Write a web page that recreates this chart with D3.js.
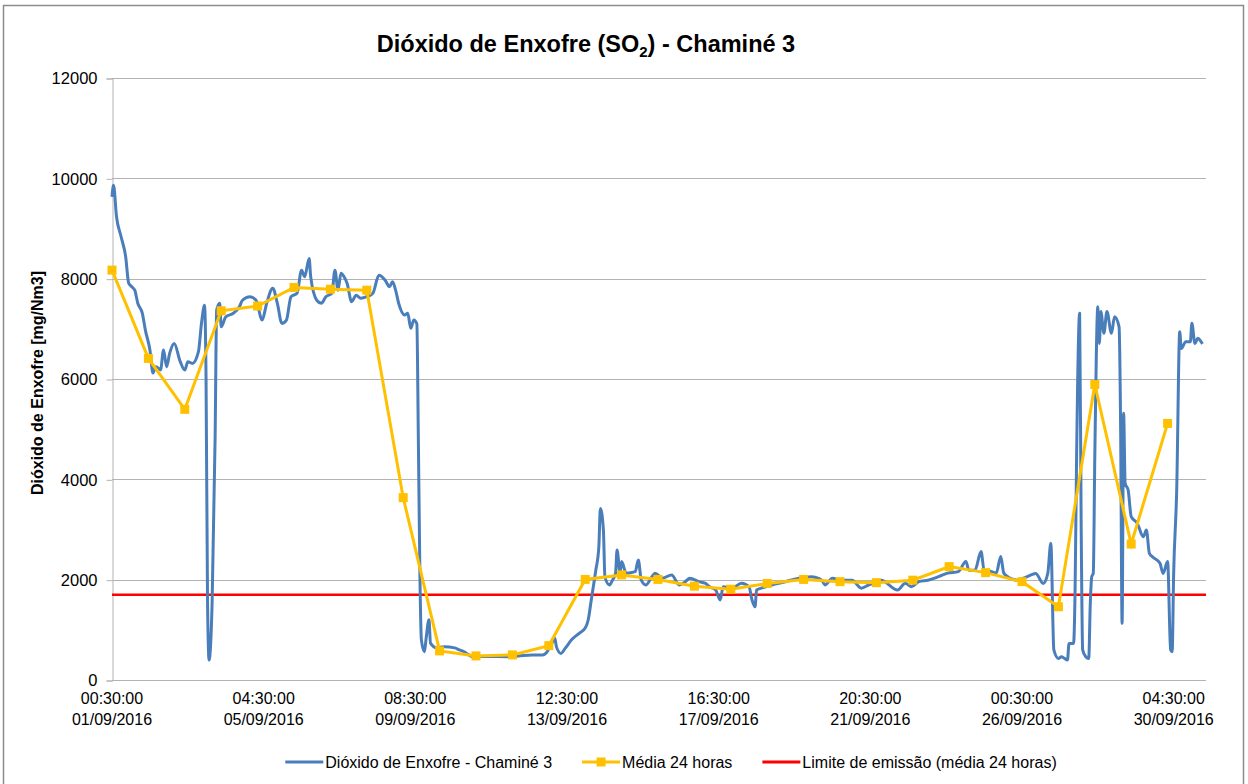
<!DOCTYPE html>
<html>
<head>
<meta charset="utf-8">
<script src="https://cdn.jsdelivr.net/npm/d3@7"></script>
<style>
  html, body { margin: 0; padding: 0; background: #ffffff; }
  svg { display: block; font-family: "Liberation Sans", Arial, sans-serif; }
</style>
</head>
<body>
<div id="chart"></div>
<script>
'use strict';

// hourly readings: [hour of month, mg/Nm3]
var so2Readings = [
    [0, 9630], [1, 9860], [3, 9230], [6, 8835], [9, 8440], [11, 7910], [13, 7840], [15, 7770],
    [17, 7510], [20, 7310], [22, 6975], [25, 6580], [27, 6120], [29, 6245], [32, 6180], [34, 6580],
    [36, 6245], [38, 6510], [41, 6710], [45, 6345], [48, 6180], [50, 6345], [53, 6310], [57, 6545],
    [59, 7110], [61, 7470], [62, 6045], [63, 1530], [64, 400], [66, 1530], [68, 4850], [69, 7375],
    [71, 7510], [72, 7040], [75, 7240], [80, 7310], [84, 7440], [86, 7570], [91, 7640], [95, 7570],
    [99, 7175], [102, 7510], [106, 7810], [109, 7510], [112, 7110], [115, 7175], [118, 7640],
    [122, 7710], [125, 8170], [127, 8040], [130, 8400], [131, 8040], [135, 7570], [138, 7510],
    [141, 7640], [145, 7710], [147, 8170], [149, 7770], [151, 8110], [153, 8040], [155, 7910],
    [158, 7540], [161, 7670], [164, 7610], [168, 7640], [172, 7710], [176, 8070], [180, 7975],
    [183, 7840], [185, 7940], [187, 7770], [189, 7510], [193, 7275], [195, 7310], [197, 7010],
    [199, 7175], [201, 7100], [202, 4780], [203, 2130], [204, 800], [206, 565], [207, 800],
    [209, 1200], [210, 735], [214, 640], [219, 665], [226, 640], [229, 600], [232, 565],
    [238, 465], [249, 470], [260, 465], [268, 480], [277, 500], [284, 500], [286, 530],
    [290, 730], [292, 830], [293, 665], [296, 530], [299, 640], [303, 800], [308, 930],
    [312, 1035], [314, 1200], [316, 1595], [318, 1990], [319, 2190], [321, 2655], [322, 3420],
    [324, 2990], [325, 2050], [328, 1895], [330, 1990], [332, 2130], [333, 2590], [335, 2130],
    [336, 2360], [339, 2130], [345, 2160], [347, 2390], [349, 1990], [352, 1895], [356, 2060],
    [358, 2130], [363, 2030], [369, 2095], [374, 1895], [378, 1960], [381, 2030], [387, 1960],
    [391, 1930], [394, 1860], [398, 1795], [401, 1595], [403, 1860], [409, 1830], [415, 1930],
    [420, 1860], [422, 1595], [424, 1460], [425, 1795], [428, 1830], [435, 1895], [444, 1960],
    [453, 2030], [461, 2060], [468, 1990], [470, 1895], [475, 2030], [481, 1990], [488, 1990],
    [494, 1830], [499, 1895], [507, 1990], [518, 1795], [523, 1930], [527, 1860], [532, 1960],
    [538, 1990], [545, 2060], [551, 2130], [558, 2160], [563, 2360], [565, 2190], [569, 2190],
    [573, 2560], [575, 2190], [580, 2160], [583, 2130], [586, 2460], [588, 2130], [592, 2030],
    [597, 1990], [601, 2030], [606, 2095], [609, 2125], [614, 1925], [617, 2125], [619, 2725],
    [621, 600], [624, 430], [626, 465], [628, 430], [630, 400], [631, 730], [634, 730],
    [635, 1795], [636, 4450], [638, 7310], [639, 3125], [640, 600], [642, 465], [644, 430],
    [645, 1500], [646, 2060], [647, 2125], [648, 4450], [650, 7440], [651, 6710], [652, 7345],
    [654, 6910], [656, 7345], [659, 6910], [661, 7240], [664, 7040], [665, 5115], [666, 1130],
    [667, 5315], [668, 3920], [670, 3785], [672, 3255], [676, 3125], [680, 2855], [682, 2990],
    [684, 2525], [686, 2455], [691, 2325], [693, 2125], [696, 2360], [698, 600], [699, 565],
    [700, 2125], [702, 3785], [704, 6940], [705, 6610], [708, 6745], [711, 6745], [712, 7110],
    [714, 6710], [716, 6810], [718, 6745], [719, 6700]
];

// 24 hour averages, one per day (hour 0, 24, 48, ...)
var dailyAverages = [
    8170, 6410, 5395, 7360, 7455, 7825, 7790, 7770, 3635, 580,
    480, 500, 685, 2005, 2095, 2005, 1870, 1810, 1925, 2005,
    1960, 1940, 1990, 2260, 2140, 1960, 1460, 5890, 2710, 5115
];

var emissionLimit = 1700;

var xTickHours = [0, 100, 200, 300, 400, 500, 600, 700];
var xTickTimes = ['00:30:00', '04:30:00', '08:30:00', '12:30:00', '16:30:00', '20:30:00', '00:30:00', '04:30:00'];
var xTickDates = ['01/09/2016', '05/09/2016', '09/09/2016', '13/09/2016', '17/09/2016', '21/09/2016', '26/09/2016', '30/09/2016'];
var yTicks = [0, 2000, 4000, 6000, 8000, 10000, 12000];

var seriesNames = ['Dióxido de Enxofre - Chaminé 3', 'Média 24 horas', 'Limite de emissão (média 24 horas)'];

var width = 1248;
var height = 784;
var blue = '#4a7ebb';
var yellow = '#ffc000';
var red = '#ff0000';
var gridColor = '#b3b3b3';
var plotRight = 1206;

var svg = d3.select('#chart').append('svg')
    .attr('width', width)
    .attr('height', height);

svg.append('rect')
    .attr('x', 3.5).attr('y', 5.5)
    .attr('width', 1240).attr('height', 800)
    .attr('fill', 'none')
    .attr('stroke', '#8c8c8c')
    .attr('stroke-width', 1.5);

var x = d3.scaleLinear().domain([0, 720]).range([112, 1204]);
var y = d3.scaleLinear().domain([0, 12000]).range([680, 78]);

// grid
svg.append('g')
    .selectAll('line')
    .data(yTicks.slice(1))
    .join('line')
    .attr('x1', x(0)).attr('x2', plotRight)
    .attr('y1', function(d) { return Math.round(y(d)) + 0.5; })
    .attr('y2', function(d) { return Math.round(y(d)) + 0.5; })
    .attr('stroke', gridColor)
    .attr('stroke-width', 1);

// y axis
var yAxis = svg.append('g')
    .attr('transform', 'translate(' + (x(0) + 0.5) + ',0.5)')
    .call(d3.axisLeft(y).tickValues(yTicks).tickSize(6).tickPadding(9).tickFormat(d3.format('d')));
yAxis.select('.domain').attr('stroke', gridColor);
yAxis.selectAll('.tick line').attr('stroke', gridColor);
yAxis.selectAll('.tick text')
    .attr('fill', '#000')
    .style('font-size', '16.5px')
    .style('font-family', '"Liberation Sans", Arial, sans-serif');

// x axis
svg.append('line')
    .attr('x1', x(0)).attr('x2', plotRight)
    .attr('y1', y(0) + 0.5).attr('y2', y(0) + 0.5)
    .attr('stroke', gridColor)
    .attr('stroke-width', 1.2);

var xLabels = svg.append('g')
    .selectAll('text')
    .data(xTickHours)
    .join('text')
    .attr('x', function(d) { return x(d); })
    .attr('y', 704)
    .attr('text-anchor', 'middle')
    .style('font-size', '16px');
xLabels.append('tspan')
    .text(function(d, i) { return xTickTimes[i]; });
xLabels.append('tspan')
    .attr('x', function(d) { return x(d); })
    .attr('dy', 21)
    .text(function(d, i) { return xTickDates[i]; });

// limit line
svg.append('line')
    .attr('x1', x(0)).attr('x2', plotRight)
    .attr('y1', y(emissionLimit)).attr('y2', y(emissionLimit))
    .attr('stroke', red)
    .attr('stroke-width', 2.5);

// hourly series
var line = d3.line()
    .x(function(d) { return x(d[0]); })
    .y(function(d) { return y(d[1]); })
    .curve(d3.curveMonotoneX);

svg.append('path')
    .datum(so2Readings)
    .attr('d', line)
    .attr('fill', 'none')
    .attr('stroke', blue)
    .attr('stroke-width', 3)
    .attr('stroke-linejoin', 'round');

// daily averages
var avgPoints = dailyAverages.map(function(v, i) { return [i * 24, v]; });

svg.append('path')
    .datum(avgPoints)
    .attr('d', d3.line()
        .x(function(d) { return x(d[0]); })
        .y(function(d) { return y(d[1]); }))
    .attr('fill', 'none')
    .attr('stroke', yellow)
    .attr('stroke-width', 3);

svg.append('g')
    .selectAll('rect')
    .data(avgPoints)
    .join('rect')
    .attr('x', function(d) { return x(d[0]) - 4.5; })
    .attr('y', function(d) { return y(d[1]) - 4.5; })
    .attr('width', 9)
    .attr('height', 9)
    .attr('fill', yellow);

// title
var title = svg.append('text')
    .attr('x', 586)
    .attr('y', 52)
    .attr('text-anchor', 'middle')
    .style('font-size', '23.5px')
    .style('font-weight', 'bold');
title.append('tspan').text('Dióxido de Enxofre (SO');
title.append('tspan').attr('dy', 5).style('font-size', '15px').text('2');
title.append('tspan').attr('dy', -5).text(') - Chaminé 3');

// y axis title
svg.append('text')
    .attr('transform', 'translate(43,383) rotate(-90)')
    .attr('text-anchor', 'middle')
    .style('font-size', '16px')
    .style('font-weight', 'bold')
    .text('Dióxido de Enxofre [mg/Nm3]');

// legend, items laid out one after another with even gaps
var legendItems = [
    { color: blue, marker: false, name: seriesNames[0] },
    { color: yellow, marker: true, name: seriesNames[1] },
    { color: red, marker: false, name: seriesNames[2] }
];
var legend = svg.append('g');
var legendX = 0;
legendItems.forEach(function(d, i) {
    var g = legend.append('g').attr('transform', 'translate(' + legendX + ',0)');
    g.append('line')
        .attr('x1', 0).attr('x2', 38)
        .attr('stroke', d.color)
        .attr('stroke-width', 3);
    if (d.marker) {
        g.append('rect')
            .attr('x', 14.5).attr('y', -4.5)
            .attr('width', 9).attr('height', 9)
            .attr('fill', yellow);
    }
    var t = g.append('text')
        .attr('x', 40)
        .attr('dy', '0.35em')
        .style('font-size', '16px')
        .text(d.name);
    legendX += 40 + t.node().getComputedTextLength() + (i < legendItems.length - 1 ? 30 : 0);
});
legend.attr('transform', 'translate(' + (671 - legendX / 2) + ',762)');
</script>
</body>
</html>
